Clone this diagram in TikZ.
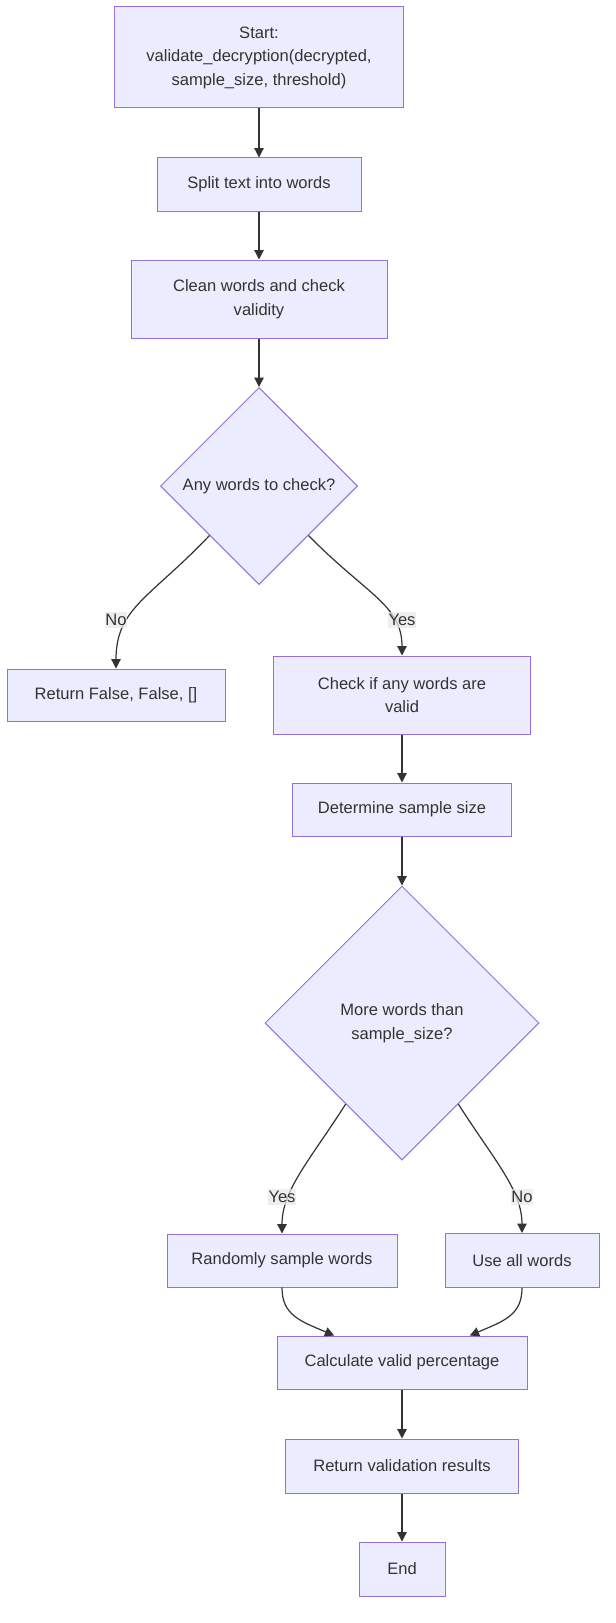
\documentclass[tikz,border=0pt]{standalone}
\usepackage{fontspec}
\setmainfont{Liberation Sans}
\usetikzlibrary{shapes.geometric,arrows.meta,calc}
\definecolor{nodefill}{HTML}{ECECFF}
\definecolor{nodeline}{HTML}{9370DB}
\definecolor{txt}{HTML}{333333}
\definecolor{lblbg}{HTML}{E8E8E8}
\begin{document}
\begin{tikzpicture}[x=0.75pt,y=-0.75pt,
  every node/.style={font=\fontsize{12.4}{17.6}\selectfont, text=txt},
  box/.style 2 args={draw=nodeline, fill=nodefill, line width=0.75pt, rectangle,
    minimum width=#1*0.75pt, minimum height=#2*0.75pt, inner sep=0pt, align=center},
  dec/.style={draw=nodeline, fill=nodefill, line width=0.75pt, diamond, aspect=1,
    minimum width=#1*0.75pt, minimum height=#1*0.75pt, inner sep=0pt, align=center},
  link/.style={draw=txt, line width=0.9pt, -{Triangle[length=7pt,width=7pt]}},
  lbl/.style={fill=lblbg, fill opacity=0.75, text opacity=1, inner xsep=0.5pt, inner ysep=2pt}
]
\useasboundingbox (0,0) rectangle (615,1623);

\node[box={289}{101}] (start) at (259,57.5) {Start:\\validate\_decryption(decrypted,\\sample\_size, threshold)};
\node[box={204}{53}] (split) at (259,184.5) {Split text into words};
\node[box={256}{78}] (clean) at (259,299) {Clean words and check\\validity};
\node[dec=197] (d1) at (259,486) {Any words to check?};
\node[box={218}{52}] (retf) at (116,695) {Return False, False, []};
\node[box={257}{78}] (check) at (402,695) {Check if any words are\\valid};
\node[box={219}{53}] (det) at (402,809.5) {Determine sample size};
\node[dec=274] (d2) at (402,1023) {More words than\\sample\_size?};
\node[box={230}{53}] (rand) at (282,1260.5) {Randomly sample words};
\node[box={154}{54}] (all) at (522,1260.5) {Use all words};
\node[box={250}{53}] (calc) at (402,1362.5) {Calculate valid percentage};
\node[box={233}{54}] (ret) at (402,1466) {Return validation results};
\node[box={86}{54}] (end) at (402,1569) {End};

\draw[link] (start.south) -- (split.north);
\draw[link] (split.south) -- (clean.north);
\draw[link] (clean.south) -- (d1.north);
\draw[link] (d1.south west) .. controls (150,598) and (116,608) .. (retf.north);
\draw[link] (d1.south east) .. controls (367,595) and (402,605) .. (check.north);
\draw[link] (check.south) -- (det.north);
\draw[link] (det.south) -- (d2.north);
\draw[link] ($(d2.south)!0.41!(d2.west)$) .. controls (310,1160) and (282,1190) .. (rand.north);
\draw[link] ($(d2.south)!0.41!(d2.east)$) .. controls (494,1160) and (522,1190) .. (all.north);
\draw[link] (rand.south) .. controls (282,1315) and (300,1321) .. ($(calc.north west)!0.23!(calc.north east)$);
\draw[link] (all.south) .. controls (522,1315) and (504,1321) .. ($(calc.north west)!0.77!(calc.north east)$);
\draw[link] (calc.south) -- (ret.north);
\draw[link] (ret.south) -- (end.north);

\node[lbl] (lno1) at (116,620) {No};
\node[lbl] (lyes1) at (402,620) {Yes};
\node[lbl] (lyes2) at (282,1197) {Yes};
\node[lbl] (lno2) at (522,1197) {No};
\end{tikzpicture}
\end{document}
